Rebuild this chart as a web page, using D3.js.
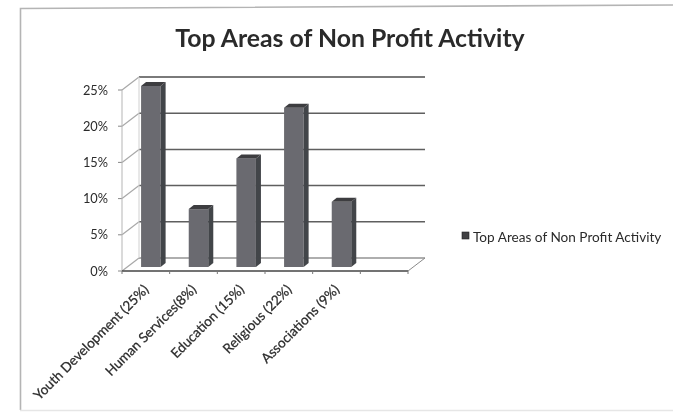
<!DOCTYPE html>
<html><head><meta charset="utf-8">
<script src="https://cdnjs.cloudflare.com/ajax/libs/d3/7.8.5/d3.min.js"></script>
<style>html,body{margin:0;padding:0;background:#fff}svg{display:block}text{font-family:Lato,"Open Sans",sans-serif;fill:#2b2b2b}</style>
</head><body><svg id="c" width="673" height="413"></svg>
<script>
const title = "Top Areas of Non Profit Activity";
const categories = ["Youth Development (25%)","Human Services(8%)","Education (15%)","Religious (22%)","Associations (9%)",""];
const values = [25,8,15,22,9,null];
const yTicks = [0,5,10,15,20,25];

const svg = d3.select("#c");
svg.append("defs").append("filter").attr("id","scan").attr("x",0).attr("y",0).attr("width","100%").attr("height","100%")
  .append("feGaussianBlur").attr("stdDeviation",0.45);
const root = svg.append("g").attr("filter","url(#scan)");
root.append("rect").attr("width",673).attr("height",413).attr("fill","#fff");
// Frame of the scanned chart
root.append("path").attr("d","M20.5,410V8.5L673,5").attr("fill","none").attr("stroke","#b4b4b4").attr("stroke-width",1.6);
root.append("path").attr("d","M20,410.5H673").attr("fill","none").attr("stroke","#e6e6e6").attr("stroke-width",1.5);

root.append("text").attr("x",350).attr("y",46.5).attr("text-anchor","middle")
  .attr("font-size",24.8).attr("font-weight",700).attr("fill","#262626").text(title);

const x = d3.scaleBand().domain(d3.range(categories.length)).range([122,408]);
const y = d3.scaleLinear().domain([0,25]).range([271,90]);
const depth = {dx:17, dy:-13};
const g = root.append("g");

yTicks.forEach(t=>{
  const yf = y(t);
  g.append("path").attr("d",`M${x.range()[0]},${yf}L${x.range()[0]+depth.dx},${yf+depth.dy}`)
    .attr("fill","none").attr("stroke","#a8a8a8").attr("stroke-width",1.2);
  g.append("line").attr("x1",x.range()[0]+depth.dx).attr("x2",x.range()[1]+depth.dx)
    .attr("y1",yf+depth.dy).attr("y2",yf+depth.dy)
    .attr("stroke",t===25?"#4e4e4e":"#5e5e5e").attr("stroke-width",t===0?1.1:1.5);
  g.append("line").attr("x1",x.range()[0]-4).attr("x2",x.range()[0])
    .attr("y1",yf).attr("y2",yf).attr("stroke","#888");
  g.append("text").attr("x",108).attr("y",yf+4.5).attr("text-anchor","end")
    .attr("font-size",12.8).text(t+"%");
});
g.append("line").attr("x1",122).attr("x2",122).attr("y1",y(0)).attr("y2",y(25)).attr("stroke","#b5b5b5");
g.append("line").attr("x1",139).attr("x2",139).attr("y1",y(0)+depth.dy).attr("y2",y(25)+depth.dy).attr("stroke","#d0d0d0");
g.append("line").attr("x1",122).attr("x2",408).attr("y1",y(0)).attr("y2",y(0)).attr("stroke","#444").attr("stroke-width",1.3);
g.append("line").attr("x1",408).attr("x2",425).attr("y1",y(0)).attr("y2",y(0)+depth.dy).attr("stroke","#8a8a8a");
d3.range(categories.length+1).forEach(i=>{
  const tx = i<categories.length ? x(i) : x.range()[1];
  g.append("line").attr("x1",tx).attr("x2",tx).attr("y1",y(0)).attr("y2",y(0)+3).attr("stroke","#777");
});

// Bars
const bw = x.bandwidth()*0.41;
const bd = {dx:5, dy:-4};
const base = y(0)-4;
const h0 = y(0)-base;
values.forEach((v,i)=>{
  if(v==null) return;
  const l = x(i)+x.bandwidth()*0.4, r = l+bw, t = y(v)-h0;
  g.append("rect").attr("x",l).attr("y",t).attr("width",bw).attr("height",base-t).attr("fill","#6b6b70");
  g.append("path").attr("d",`M${r},${t}L${r+bd.dx},${t+bd.dy}V${base+bd.dy}L${r},${base}Z`).attr("fill","#434448");
  g.append("path").attr("d",`M${l},${t}L${l+bd.dx},${t+bd.dy}H${r+bd.dx}L${r},${t}Z`).attr("fill","#3d3d40");
});

// Category labels
categories.forEach((c,i)=>{
  if(!c) return;
  const px = x(i)+x.bandwidth()*0.55-1;
  g.append("text").attr("transform",`translate(${px},${y(0)+17}) rotate(-45)`)
    .attr("text-anchor","end").attr("dominant-baseline","middle").attr("font-size",13.6)
    .attr("stroke","#2b2b2b").attr("stroke-width",0.25)
    .text(c);
});

// Legend
root.append("rect").attr("x",462).attr("y",232).attr("width",7).attr("height",7).attr("fill","#3f3f42").attr("stroke","#222").attr("stroke-width",0.6);
root.append("text").attr("x",473).attr("y",241.5).attr("font-size",13.6).text(title);
</script></body></html>
